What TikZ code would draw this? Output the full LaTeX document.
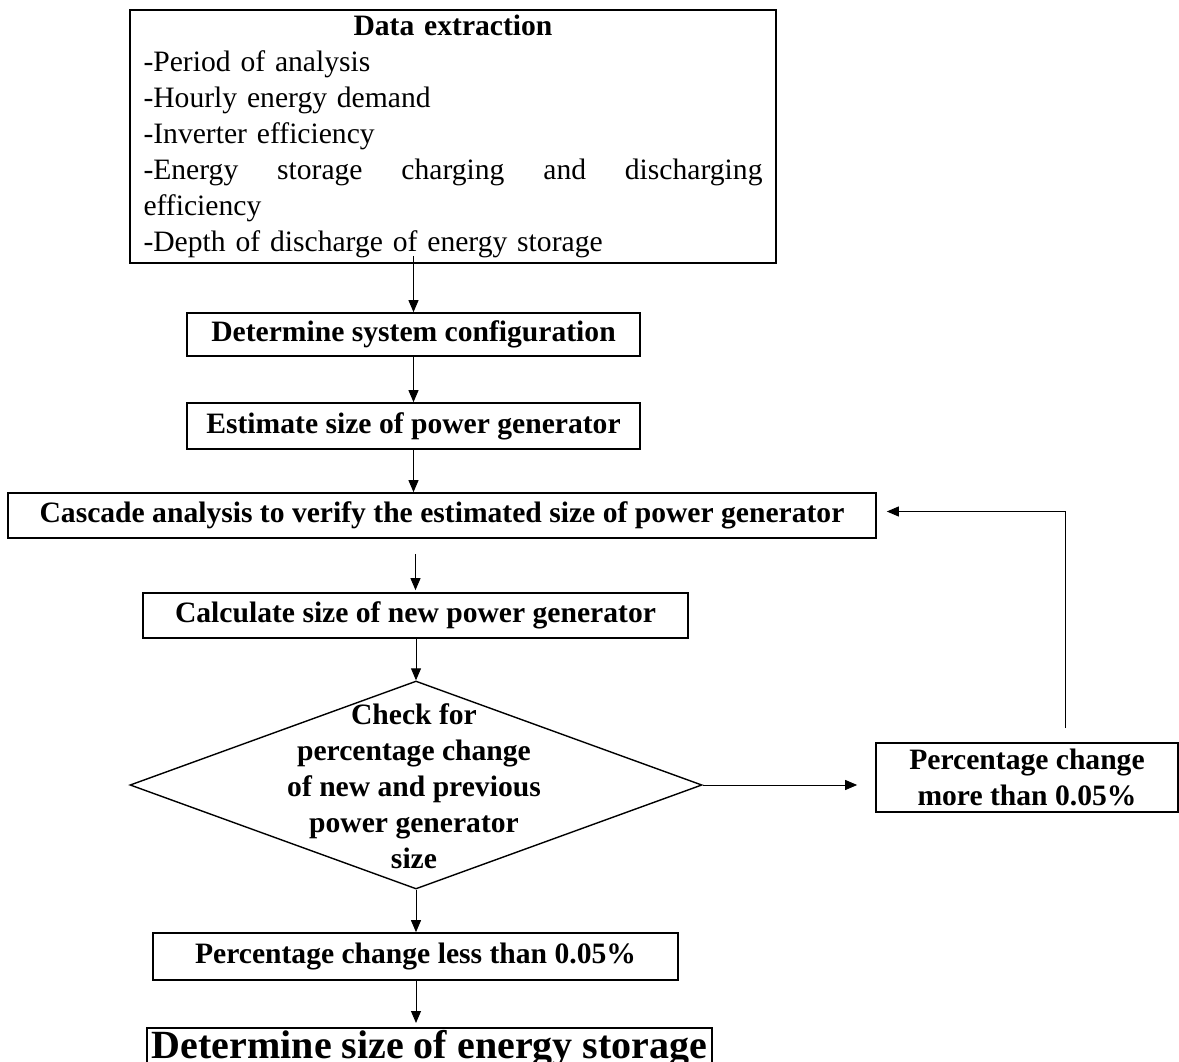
\documentclass[tikz,border=0pt]{standalone}
\usepackage{fontspec}
\setmainfont{Liberation Serif}
\usetikzlibrary{arrows.meta,shapes.geometric,calc}
\begin{document}
\begin{tikzpicture}[x=1pt,y=-1pt,
  box/.style={draw, line width=1.7pt, inner sep=0pt, font=\fontsize{29.6}{36}\selectfont\bfseries, align=center},
  lbl/.style={inner sep=0pt, font=\fontsize{29.6}{36}\selectfont\bfseries, align=center},
  arr/.style={-{Triangle[length=12pt,width=10pt]}, line width=0.9pt}]
\useasboundingbox (0,0) rectangle (1179,1062);
\fill[white] (0,0) rectangle (1179,1062);

\node[box, minimum width=646pt, minimum height=253pt, font=\fontsize{29.6}{36}\selectfont, align=left, text width=619pt] (data) at (453,136.5)
  {\makebox[619pt]{\bfseries Data extraction}\\-Period of analysis\\-Hourly energy demand\\-Inverter efficiency\\\makebox[619pt][l]{-Energy\hfill storage\hfill charging\hfill and\hfill discharging}\\efficiency\\-Depth of discharge of energy storage};

\node[box, minimum width=453pt, minimum height=43pt] (config) at (413.5,334.5) {Determine system configuration};
\node[box, minimum width=453pt, minimum height=46pt] (estimate) at (413.5,426) {Estimate size of power generator};
\node[box, minimum width=868pt, minimum height=45pt] (cascade) at (442,515.5) {Cascade analysis to verify the estimated size of power generator};
\node[box, minimum width=545pt, minimum height=45pt] (calc) at (415.5,615.5) {Calculate size of new power generator};

\node[draw, diamond, line width=1.4pt, minimum width=572pt, minimum height=208pt, inner sep=0pt] (dia) at (416,785) {};
\node[lbl] (diatext) at (414,786.5) {Check for\\percentage change\\of new and previous\\power generator\\size};

\node[box, minimum width=302pt, minimum height=69pt] (more) at (1027,777.5) {Percentage change\\more than 0.05\%};
\node[box, minimum width=525pt, minimum height=47pt] (less) at (415.5,956.5) {Percentage change less than 0.05\%};
\node[box, minimum width=565pt, minimum height=42pt, anchor=north, font=\fontsize{40}{46}\selectfont\bfseries] (storage) at (429.5,1027) {Determine size of energy storage};

\coordinate (loopstart) at (1065,728);

\draw[arr] ([yshift=8pt]config.north |- data.south) -- (config.north);
\draw[arr] (config.south) -- (estimate.north);
\draw[arr] (estimate.south) -- (estimate.south |- cascade.north);
\draw[arr] ([yshift=-15pt]calc.north |- cascade.south) -- ([yshift=2pt]calc.north);
\draw[arr] (calc.south -| dia.north) -- (dia.north);
\draw[arr, shorten >=18pt] (dia.east) -- (dia.east -| more.west);
\draw[arr, shorten >=10pt] (loopstart) |- ([yshift=4pt]cascade.east);
\draw[arr] (dia.south) -- (dia.south |- less.north);
\draw[arr, shorten >=4pt] (less.south -| dia.south) -- (dia.south |- storage.north);
\end{tikzpicture}
\end{document}
